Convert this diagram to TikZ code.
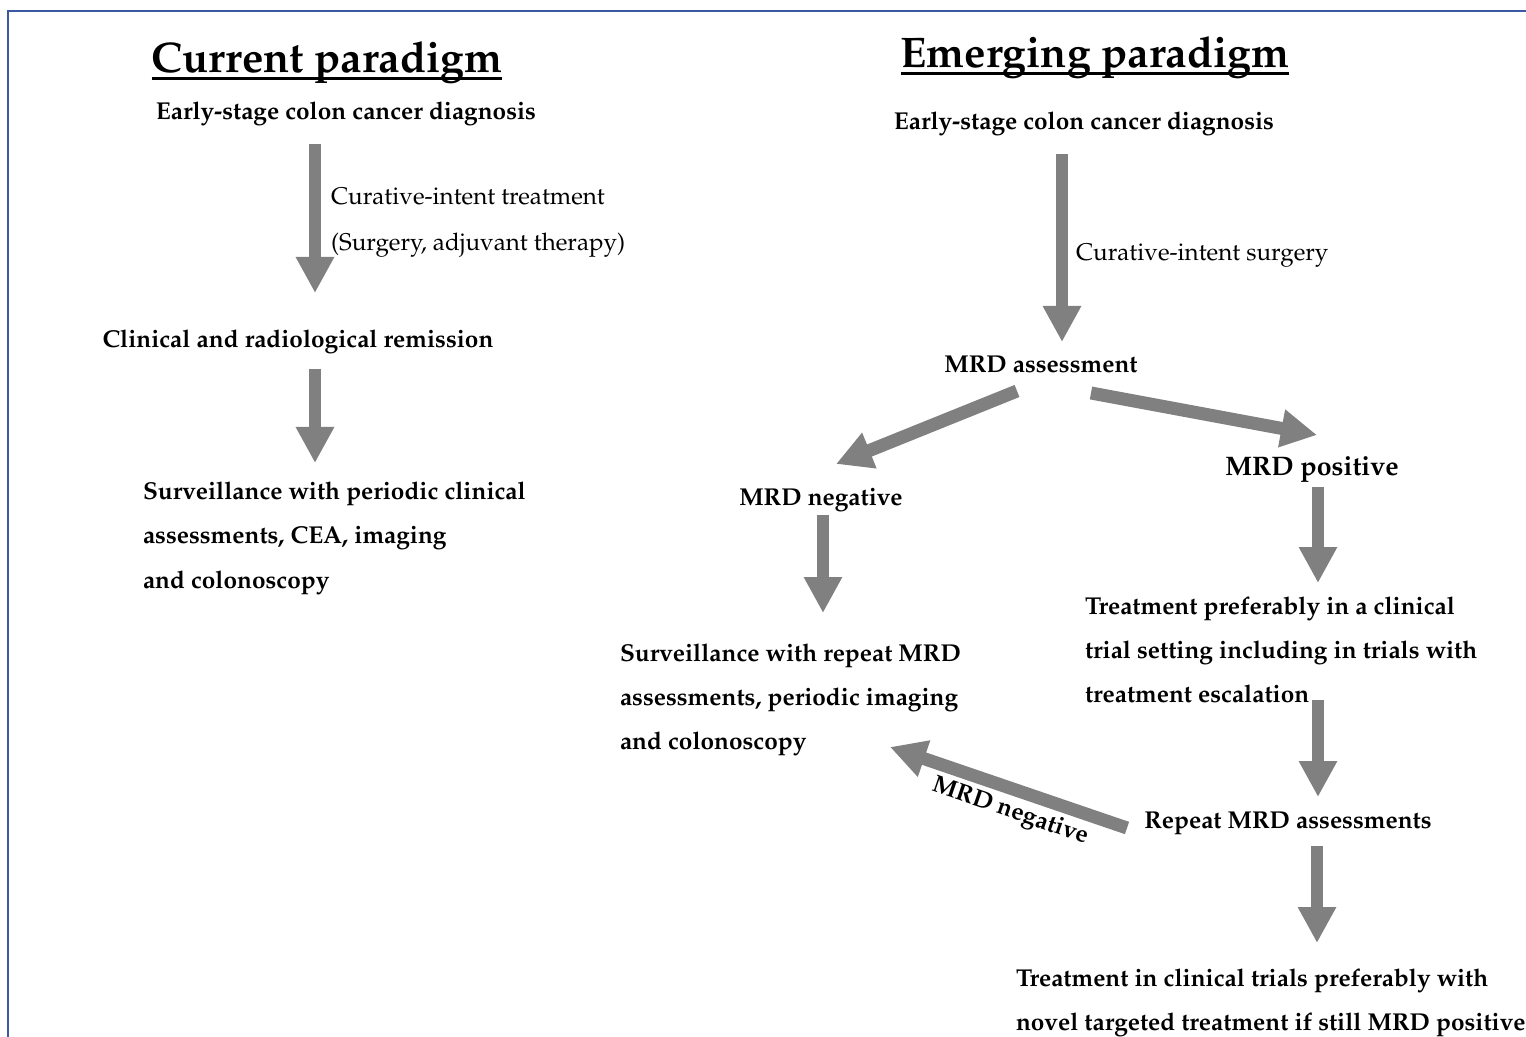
\documentclass[tikz,border=0pt]{standalone}
\usepackage[T1]{fontenc}
\renewcommand{\rmdefault}{ppl}
\usetikzlibrary{arrows.meta}

\definecolor{frameblue}{RGB}{59,89,160}
\definecolor{arrowgray}{RGB}{128,128,128}

\begin{document}
\begin{tikzpicture}[x=0.5pt,y=-0.5pt,
    every node/.style={inner sep=0pt,outer sep=0pt},
    boldtext/.style={font=\fontsize{12.2}{22}\selectfont\bfseries},
    plaintext/.style={font=\fontsize{12.1}{23}\selectfont},
    headtext/.style={font=\fontsize{21.4}{26}\selectfont\bfseries},
    bigarrow/.style={draw=arrowgray,line width=6pt,-{Triangle[length=18pt,width=18pt]}},
    slantarrow/.style={bigarrow,line width=6.5pt}]
    \useasboundingbox (0,0) rectangle (1526,1037);

    % frame (top and left edges only)
    \draw[frameblue,line width=1.4pt] (8,1037) -- (8,11) -- (1526,11);

    % titles
    \node[headtext,anchor=base] (CurTitle) at (327,73) {Current paradigm};
    \node[headtext,anchor=base] (EmTitle) at (1095,68) {Emerging paradigm};
    \draw[line width=1.5pt] ([yshift=-3pt]CurTitle.base west) -- ([yshift=-3pt]CurTitle.base east);
    \draw[line width=1.5pt] ([yshift=-3pt]EmTitle.base west) -- ([yshift=-3pt]EmTitle.base east);

    % current paradigm (multi-line nodes sit on their last line)
    \node[boldtext,anchor=base] (CurStart) at (346,120) {Early-stage colon cancer diagnosis};
    \node[plaintext,anchor=base west,align=left] (CurCure) at (331,251)
        {Curative-intent treatment\\(Surgery, adjuvant therapy)};
    \node[boldtext,anchor=base] (CurRem) at (298,348) {Clinical and radiological remission};
    \node[boldtext,anchor=base west,align=left] (CurSurv) at (143,588)
        {Surveillance with periodic clinical\\assessments, CEA, imaging\\and colonoscopy};

    % emerging paradigm
    \node[boldtext,anchor=base] (EmStart) at (1084,130) {Early-stage colon cancer diagnosis};
    \node[plaintext,anchor=base west] (EmCure) at (1076,261) {Curative-intent surgery};
    \node[boldtext,anchor=base] (EmMrd) at (1041,373) {MRD assessment};
    \node[boldtext,anchor=base] (EmNeg) at (821,505) {MRD negative};
    \node[boldtext,font=\fontsize{13.4}{22}\selectfont\bfseries,anchor=base] (EmPos) at (1312,476) {MRD positive};
    \node[boldtext,anchor=base west,align=left] (EmSurv) at (620,749)
        {Surveillance with repeat MRD\\assessments, periodic imaging\\and colonoscopy};
    \node[boldtext,anchor=base west,align=left] (EmTreat) at (1085,702)
        {Treatment preferably in a clinical\\trial setting including in trials with\\treatment escalation};
    \node[boldtext,anchor=base] (EmRepeat) at (1288,828) {Repeat MRD assessments};
    \node[boldtext,anchor=base west,align=left] (EmFinal) at (1016,1030)
        {Treatment in clinical trials preferably with\\novel targeted treatment if still MRD positive};
    \node[boldtext,rotate=-19] (EmBack) at (1010,812) {MRD negative};

    % arrow ends
    \coordinate (c1a) at (315,144);  \coordinate (c1b) at (315,293);
    \coordinate (c2a) at (315,369);  \coordinate (c2b) at (315,463);
    \coordinate (e1a) at (1062,154); \coordinate (e1b) at (1062,342);
    \coordinate (e2a) at (823,515);  \coordinate (e2b) at (823,613);
    \coordinate (e3a) at (1318,487); \coordinate (e3b) at (1318,583);
    \coordinate (e4a) at (1318,700); \coordinate (e4b) at (1318,797);
    \coordinate (e5a) at (1317,846); \coordinate (e5b) at (1317,943);
    \coordinate (d1a) at (1017,391); \coordinate (d1b) at (836,464);
    \coordinate (d2a) at (1091,393); \coordinate (d2b) at (1317,435);
    \coordinate (d3a) at (1127,828); \coordinate (d3b) at (890,747);

    \foreach \a/\b in {c1a/c1b,c2a/c2b,e1a/e1b,e2a/e2b,e3a/e3b,e4a/e4b,e5a/e5b}
        \draw[bigarrow] (\a) -- (\b);
    \foreach \a/\b in {d1a/d1b,d2a/d2b,d3a/d3b}
        \draw[slantarrow] (\a) -- (\b);
\end{tikzpicture}
\end{document}
